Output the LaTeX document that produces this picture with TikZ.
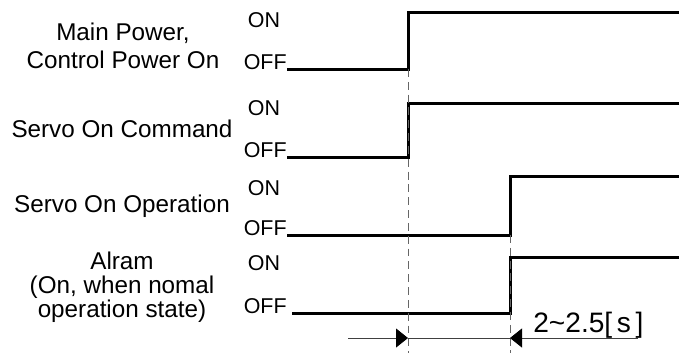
\documentclass[tikz,border=0pt]{standalone}
\usepackage{fontspec}
\setmainfont{Liberation Sans}
\usetikzlibrary{positioning,arrows.meta}

\begin{document}
\begin{tikzpicture}[x=0.02cm, y=-0.02cm]
	% Define styles for the timing chart
	\tikzset{
		signame/.style={
			align=center,
			inner sep=0pt,
			font=\fontsize{13.8pt}{15.9pt}\selectfont
		},
		onoff/.style={
			inner sep=0pt,
			font=\fontsize{12.2pt}{14pt}\selectfont
		},
		sigwave/.style={
			line width=1.7pt,
			line join=miter
		},
		guideline/.style={
			draw=black!60,
			line width=0.5pt,
			dash pattern=on 4.5pt off 2.8pt
		},
		dimline/.style={
			draw=black!75,
			line width=0.5pt
		},
		dimarrow/.style={
			dimline,
			-{Triangle[length=0.24cm,width=0.38cm,color=black]}
		}
	}
	\useasboundingbox (0,0) rectangle (679,353);
	
	% Edge times
	\coordinate (t1) at (408,0);
	\coordinate (t2) at (510,0);
	\coordinate (tend) at (679,0);
	
	% Signal names
	\node[signame] (mainPwr) at (123,46) {Main Power,\\Control Power On};
	\node[signame, anchor=base] (servoCmd) at (122,137) {Servo On Command};
	\node[signame, anchor=base] (servoOp) at (122,212) {Servo On Operation};
	\node[signame, font=\fontsize{13.8pt}{13.6pt}\selectfont] (alarm) at (122,287) {Alram\\(On, when nomal\\operation state)};
	
	% ON / OFF levels
	\node[onoff, anchor=base] (on1) at (264,27) {ON};
	\node[onoff, anchor=base east] (off1) at (287,69) {OFF};
	\node[onoff, anchor=base] (on2) at (264,115) {ON};
	\node[onoff, anchor=base east] (off2) at (287,157) {OFF};
	\node[onoff, anchor=base] (on3) at (264,195) {ON};
	\node[onoff, anchor=base east] (off3) at (287,235) {OFF};
	\node[onoff, anchor=base] (on4) at (264,270) {ON};
	\node[onoff, anchor=base east] (off4) at (287,313) {OFF};
	
	% Waveforms
	\draw[sigwave] (off1.base east) -- (t1 |- off1.base east) -- (t1 |- 0,12) -- (tend |- 0,12);
	\draw[sigwave] (off2.base east) -- (t1 |- off2.base east) -- (t1 |- 0,103) -- (tend |- 0,103);
	\draw[sigwave] (off3.base east) -- (t2 |- off3.base east) -- (t2 |- 0,176) -- (tend |- 0,176);
	\draw[sigwave] ([xshift=3pt]off4.base east) -- (t2 |- off4.base east) -- (t2 |- 0,257) -- (tend |- 0,257);
	
	% dashed guides
	\draw[guideline] (t1 |- off1.base east) -- (t1 |- 0,353);
	\draw[guideline] (t2 |- off3.base east) -- (t2 |- 0,353);
	
	% delay dimension
	\coordinate (dimL) at (348,338);
	\coordinate (dimR) at (638,338);
	\draw[dimline] (t1 |- dimL) -- (t2 |- dimR);
	\draw[dimarrow] (dimL) -- (t1 |- dimL);
	\draw[dimarrow] (dimR) -- (t2 |- dimR);
	\node[anchor=base west, inner sep=0pt, font=\fontsize{16pt}{18pt}\selectfont] (delay) at (533,332) {2\textasciitilde 2.5[\,s\,]};
\end{tikzpicture}
\end{document}
